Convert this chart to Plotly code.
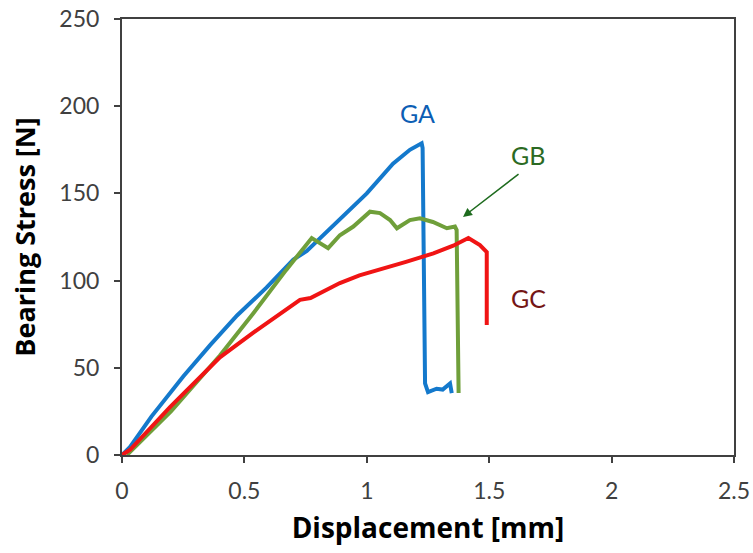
import plotly.graph_objects as go

# ---- data ----
GA_x = [0, 0.033, 0.12, 0.25, 0.36, 0.47, 0.59, 0.70, 0.755, 0.89, 1.0, 1.107, 1.176, 1.224, 1.228, 1.238, 1.25, 1.285, 1.31, 1.34, 1.347]
GA_y = [0, 4.6, 22, 45, 63, 80, 96, 112, 117, 135, 150, 167, 175, 178.7, 176, 41, 36, 38, 37.5, 41, 35.5]

GB_x = [0.02, 0.2, 0.4, 0.535, 0.67, 0.775, 0.842, 0.89, 0.945, 1.013, 1.054, 1.095, 1.123, 1.176, 1.217, 1.27, 1.327, 1.36, 1.367, 1.375]
GB_y = [0, 25, 57, 81, 106, 124.4, 118.6, 126, 131, 139.5, 138.7, 134.7, 130, 134.7, 135.7, 133.6, 130, 131, 129, 35.6]

GC_x = [0, 0.033, 0.196, 0.40, 0.535, 0.67, 0.727, 0.77, 0.89, 0.97, 1.066, 1.16, 1.272, 1.353, 1.415, 1.462, 1.49, 1.49]
GC_y = [0, 3, 27.5, 56, 70, 83, 89, 90, 98.6, 103, 106.7, 110.7, 115.6, 120, 124.4, 120.4, 116.4, 74.5]

x_ticks = [0, 0.5, 1, 1.5, 2, 2.5]
y_ticks = [0, 50, 100, 150, 200, 250]

FONT = "Lato"
TFONT = "Open Sans"
AXC = "#404040"

fig = go.Figure()
fig.add_trace(go.Scatter(x=GA_x, y=GA_y, mode="lines", line=dict(color="#1479CC", width=4), showlegend=False))
fig.add_trace(go.Scatter(x=GB_x, y=GB_y, mode="lines", line=dict(color="#6F9F3A", width=4), showlegend=False))
fig.add_trace(go.Scatter(x=GC_x, y=GC_y, mode="lines", line=dict(color="#F01414", width=4), showlegend=False))

fig.add_annotation(x=1.209, y=196, text="GA", showarrow=False, font=dict(family=FONT, size=25, color="#0C5EB4"))
fig.add_annotation(x=1.66, y=172, text="GB", showarrow=False, font=dict(family=FONT, size=25, color="#2B6A23"))
fig.add_annotation(x=1.66, y=90, text="GC", showarrow=False, font=dict(family=FONT, size=25, color="#741515"))
fig.add_annotation(x=1.393, y=136.5, ax=1.626, ay=161.7, axref="x", ayref="y", text="", showarrow=True,
                   arrowhead=2, arrowsize=1.2, arrowwidth=1.5, arrowcolor="#1E6B1E")

fig.update_layout(
    width=753, height=553,
    margin=dict(l=122, r=19, t=19, b=98),
    plot_bgcolor="white", paper_bgcolor="white",
    font=dict(family=FONT, color="#404040"),
)
fig.update_xaxes(range=[0, 2.5], tickvals=x_ticks, ticktext=[str(v) for v in x_ticks], automargin=False,
                 showline=True, linecolor=AXC, linewidth=2, mirror=True,
                 ticks="outside", ticklen=6, tickcolor=AXC, tickwidth=1.5, showgrid=False, zeroline=False,
                 ticklabelstandoff=8,
                 tickfont=dict(family=FONT, size=23, color="#404040"),
                 title=dict(text="<b>Displacement [mm]</b>", font=dict(family=TFONT, size=28, color="black"), standoff=16))
fig.update_yaxes(range=[0, 250], tickvals=y_ticks, automargin=False,
                 showline=True, linecolor=AXC, linewidth=2, mirror=True,
                 ticks="outside", ticklen=6, tickcolor=AXC, tickwidth=1.5, showgrid=False, zeroline=False,
                 ticklabelstandoff=10,
                 tickfont=dict(family=FONT, size=23, color="#404040"),
                 title=dict(text="<b>Bearing Stress [N]</b>", font=dict(family=TFONT, size=27, color="black"), standoff=16))

fig.write_html("out.html")
